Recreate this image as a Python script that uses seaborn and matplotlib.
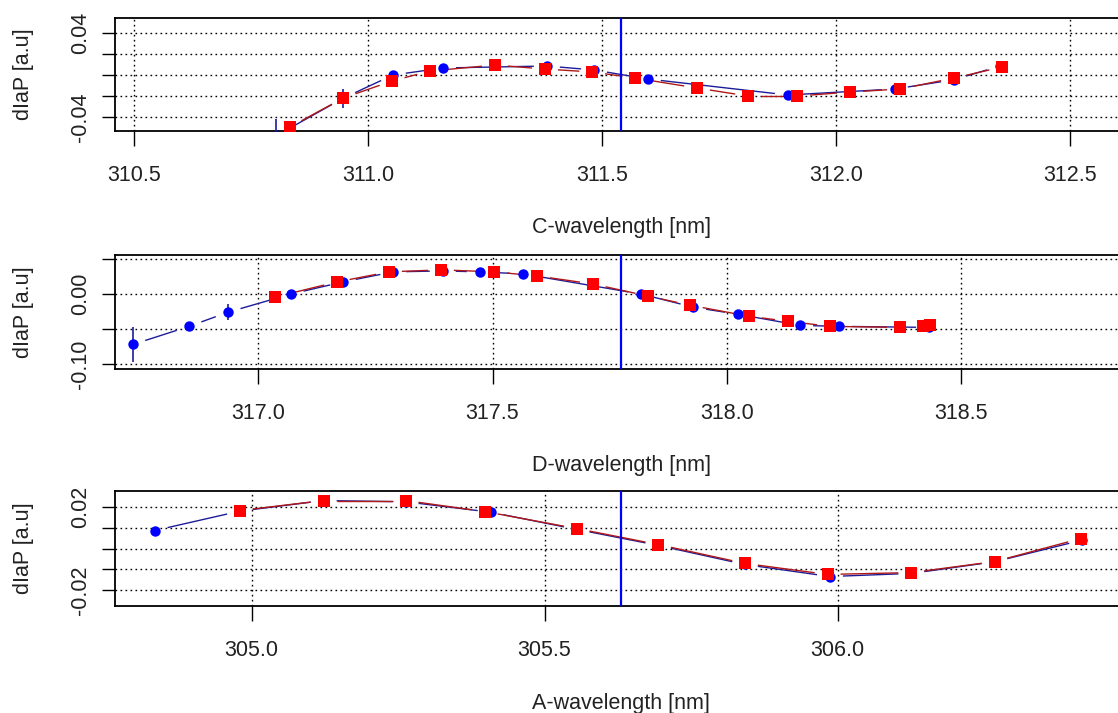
import numpy as np
import pandas as pd
import matplotlib
matplotlib.use("Agg")
import matplotlib.pyplot as plt
import matplotlib.transforms as mtransforms
from matplotlib.collections import LineCollection
import seaborn as sns

# ---------------- data ----------------
# Panel C
c_blue_x = [310.803, 310.947, 311.053, 311.160, 311.382, 311.483, 311.598, 311.897, 312.126, 312.252, 312.350]
c_blue_y = [-0.058, -0.022, 0.000, 0.0067, 0.0086, 0.0048, -0.0038, -0.0190, -0.0133, -0.0045, 0.0085]
c_blue_e = [0.016, 0.009, 0.003, 0.002, 0.002, 0.002, 0.002, 0.002, 0.002, 0.002, 0.002]
c_red_x = [310.833, 310.947, 311.051, 311.132, 311.271, 311.378, 311.479, 311.571, 311.703, 311.812,
           311.917, 312.030, 312.137, 312.252, 312.355]
c_red_y = [-0.0495, -0.0219, -0.0057, 0.0038, 0.0095, 0.0057, 0.0029, -0.0029, -0.0124, -0.0200,
           -0.0200, -0.0162, -0.0133, -0.0029, 0.0076]
c_red_e = [0.003, 0.004, 0.003, 0.002, 0.003, 0.002, 0.002, 0.002, 0.002, 0.002, 0.002, 0.002, 0.002, 0.003, 0.002]
c_center = 311.540
c_xlim = (310.459, 312.622)
c_ylim = (-0.0533, 0.0543)
c_xticks = [310.5, 311.0, 311.5, 312.0, 312.5]
c_xticklabels = ["310.5", "311.0", "311.5", "312.0", "312.5"]
c_yticks = [-0.04, -0.02, 0.00, 0.02, 0.04]
c_yticklabels = ["-0.04", "", "", "", "0.04"]

# Panel D
d_blue_x = [316.733, 316.853, 316.936, 317.070, 317.181, 317.288, 317.394, 317.473, 317.565, 317.817,
            317.928, 318.023, 318.156, 318.239, 318.431]
d_blue_y = [-0.072, -0.0461, -0.0259, 0.000, 0.0173, 0.0317, 0.0331, 0.0317, 0.0288, 0.000,
            -0.0187, -0.0288, -0.0447, -0.0461, -0.0476]
d_blue_e = [0.0245, 0.004, 0.0115, 0.003, 0.003, 0.003, 0.003, 0.003, 0.003, 0.003, 0.003, 0.003, 0.003, 0.003, 0.003]
d_red_x = [317.036, 317.168, 317.279, 317.390, 317.503, 317.595, 317.714, 317.832, 317.921, 318.047,
           318.130, 318.220, 318.369, 318.418, 318.433]
d_red_y = [-0.0043, 0.0173, 0.0317, 0.0346, 0.0317, 0.0259, 0.0144, -0.0029, -0.0159, -0.0317,
           -0.0389, -0.0461, -0.0476, -0.0461, -0.0447]
d_red_e = [0.006, 0.003, 0.003, 0.003, 0.003, 0.003, 0.003, 0.003, 0.003, 0.003, 0.003, 0.003, 0.003, 0.003, 0.003]
d_center = 317.774
d_xlim = (316.695, 318.853)
d_ylim = (-0.107, 0.0558)
d_xticks = [317.0, 317.5, 318.0, 318.5]
d_xticklabels = ["317.0", "317.5", "318.0", "318.5"]
d_yticks = [-0.10, -0.05, 0.00, 0.05]
d_yticklabels = ["-0.10", "", "0.00", ""]

# Panel A
a_blue_x = [304.835, 304.980, 305.123, 305.263, 305.408, 305.555, 305.694, 305.842, 305.987, 306.126,
            306.268, 306.417]
a_blue_y = [0.00867, 0.0180, 0.0231, 0.0225, 0.0175, 0.0092, 0.0015, -0.0077, -0.0135, -0.0120,
            -0.0064, 0.0040]
a_blue_e = [0.001, 0.001, 0.001, 0.001, 0.001, 0.001, 0.001, 0.001, 0.001, 0.001, 0.001, 0.001]
a_red_x = [304.980, 305.123, 305.263, 305.398, 305.555, 305.694, 305.842, 305.983, 306.126, 306.268, 306.415]
a_red_y = [0.0183, 0.0231, 0.0231, 0.0178, 0.0096, 0.0019, -0.0072, -0.0125, -0.0116, -0.0063, 0.0048]
a_red_e = [0.001, 0.001, 0.001, 0.001, 0.001, 0.001, 0.001, 0.001, 0.001, 0.001, 0.001]
a_center = 305.630
a_xlim = (304.767, 306.494)
a_ylim = (-0.0277, 0.0277)
a_xticks = [305.0, 305.5, 306.0]
a_xticklabels = ["305.0", "305.5", "306.0"]
a_yticks = [-0.02, -0.01, 0.00, 0.01, 0.02]
a_yticklabels = ["-0.02", "", "", "", "0.02"]

ylabel = "dIaP [a.u]"
xlabels = ["C-wavelength [nm]", "D-wavelength [nm]", "A-wavelength [nm]"]

# ---------------- style ----------------
sns.set_theme(style="white")
plt.rcParams["font.family"] = ["Liberation Sans", "DejaVu Sans"]
plt.rcParams["axes.unicode_minus"] = False

W, H = 1118, 713
fig = plt.figure(figsize=(W / 100, H / 100), dpi=100)

boxes = [(18, 131), (255, 369), (491, 606)]
left_px, right_px = 115, 1127

panels = [
    (c_blue_x, c_blue_y, c_blue_e, c_red_x, c_red_y, c_red_e, c_center, c_xlim, c_ylim,
     c_xticks, c_xticklabels, c_yticks, c_yticklabels),
    (d_blue_x, d_blue_y, d_blue_e, d_red_x, d_red_y, d_red_e, d_center, d_xlim, d_ylim,
     d_xticks, d_xticklabels, d_yticks, d_yticklabels),
    (a_blue_x, a_blue_y, a_blue_e, a_red_x, a_red_y, a_red_e, a_center, a_xlim, a_ylim,
     a_xticks, a_xticklabels, a_yticks, a_yticklabels),
]

FS = 15.5
BLUE_PT = "#0000ff"
RED_PT = "#ff0000"
BLUE_LN = "#1c1c9a"
RED_LN = "#b01818"
GAP = 13.0  # pixels, like R type="b"


def gapped_lines(ax, x, y, color, z):
    """Connect consecutive points with segments shortened near each point (R type='b')."""
    pts = ax.transData.transform(np.column_stack([x, y]))
    segs = []
    for p0, p1 in zip(pts[:-1], pts[1:]):
        d = p1 - p0
        L = np.hypot(*d)
        if L <= 2 * GAP:
            continue
        u = d / L
        a = p0 + u * GAP
        b = p1 - u * GAP
        segs.append(ax.transData.inverted().transform(np.array([a, b])))
    lc = LineCollection(segs, colors=color, linewidths=1.0, zorder=z)
    ax.add_collection(lc)


for i, (bx, by, be, rx, ry, re, cen, xl, yl, xt, xtl, yt, ytl) in enumerate(panels):
    top, bot = boxes[i]
    ax = fig.add_axes([left_px / W, 1 - bot / H, (right_px - left_px) / W, (bot - top) / H])
    ax.set_facecolor("white")

    dfb = pd.DataFrame({"x": bx, "y": by, "e": be})
    dfr = pd.DataFrame({"x": rx, "y": ry, "e": re})

    ax.set_xlim(*xl)
    ax.set_ylim(*yl)

    # grid
    for t in xt:
        ax.axvline(t, color="black", lw=1.0, ls=(0, (1.2, 2.4)), zorder=1)
    for t in yt:
        ax.axhline(t, color="black", lw=1.0, ls=(0, (1.2, 2.4)), zorder=1)

    gapped_lines(ax, dfb["x"].to_numpy(), dfb["y"].to_numpy(), BLUE_LN, 2)
    gapped_lines(ax, dfr["x"].to_numpy(), dfr["y"].to_numpy(), RED_LN, 3)
    ax.vlines(dfb["x"], dfb["y"] - dfb["e"], dfb["y"] + dfb["e"], color=BLUE_LN, lw=1.2, zorder=4)
    ax.vlines(dfr["x"], dfr["y"] - dfr["e"], dfr["y"] + dfr["e"], color=RED_LN, lw=1.2, zorder=4)
    sns.scatterplot(data=dfb, x="x", y="y", ax=ax, color=BLUE_PT, marker="o", s=7.5 ** 2,
                    linewidth=0, zorder=5)
    sns.scatterplot(data=dfr, x="x", y="y", ax=ax, color=RED_PT, marker="s", s=8.5 ** 2,
                    linewidth=0, zorder=6)

    ax.axvline(cen, color="#0000ff", lw=1.6, zorder=7)

    ax.set_xlim(*xl)
    ax.set_ylim(*yl)
    ax.set_xticks(xt)
    ax.set_xticklabels(xtl)
    ax.set_yticks(yt)
    ax.set_yticklabels(ytl)

    for s in ax.spines.values():
        s.set_visible(True)
        s.set_color("black")
        s.set_linewidth(1.3)

    ax.tick_params(axis="x", direction="out", length=10.5, width=1.0, color="black",
                   labelsize=FS, pad=14, labelcolor="#222222", bottom=True)
    ax.tick_params(axis="y", direction="out", length=9.5, width=1.0, color="black",
                   labelsize=FS, pad=7.5, labelcolor="#222222", left=True, labelrotation=90)
    for lab in ax.get_yticklabels():
        lab.set_va("center")

    ax.set_xlabel(xlabels[i], fontsize=FS, color="#222222")
    ax.set_ylabel(ylabel, fontsize=FS, color="#222222")
    ax.xaxis.set_label_coords(0.5, 0, transform=mtransforms.offset_copy(
        ax.transAxes, fig=fig, x=0, y=-97, units="dots"))
    ax.xaxis.label.set_va("center")
    ax.yaxis.set_label_coords(0, 0.5, transform=mtransforms.offset_copy(
        ax.transAxes, fig=fig, x=-92, y=0, units="dots"))
    ax.yaxis.label.set_va("center")

fig.savefig("out.png", dpi=100, facecolor="white")
